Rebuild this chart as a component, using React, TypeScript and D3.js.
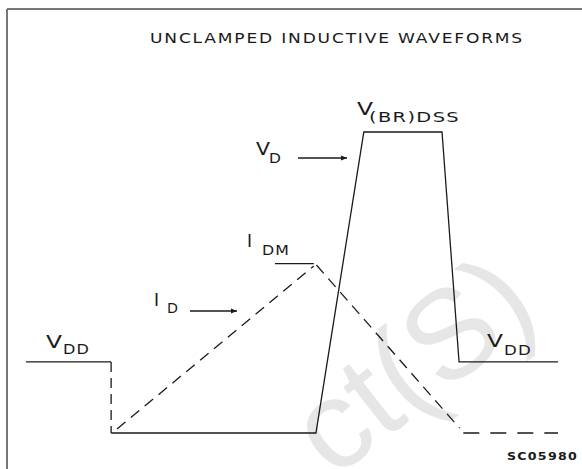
import React from "react";
import * as d3 from "d3";

// waveform points as [time, level], time 0..100 across, level 0..100 up
const vdStart = [[0, 23.6], [16, 23.6]];
const vdFall = [[16, 23.6], [16, 0]];
const vdMain = [[16, 0], [54.5, 0], [63.5, 100], [78.2, 100], [81.4, 23.6], [100, 23.6]];
const idRise = [[17.1, 1.3], [54.1, 55.5]];
const idFall = [[54.6, 55.8], [81.5, 1.6]];
const idTail = [[82.2, 0], [100, 0]];
const idmMark = [[46.8, 56.3], [54.1, 56.3]];

const title = "UNCLAMPED  INDUCTIVE  WAVEFORMS";
const codeLabel = "SC05980";

const W = 582;
const H = 469;

export default function App() {
  const x = d3.scaleLinear().domain([0, 100]).range([26, 558]);
  const y = d3.scaleLinear().domain([0, 100]).range([433, 132]);
  const line = d3
    .line<number[]>()
    .x((d) => x(d[0]))
    .y((d) => y(d[1]));

  const ink = "#1a1a1a";
  const font = "'DejaVu Sans', Verdana, sans-serif";

  // label helper: main letter plus subscript, stretched to the reference widths
  const label = (
    mx: number, my: number, main: string, mainW: number | null,
    sx: number, sy: number, sub: string, subW: number
  ) => (
    <g fill={ink} fontFamily={font}>
      {mainW ? (
        <text x={mx} y={my} fontSize={17} textLength={mainW} lengthAdjust="spacingAndGlyphs">{main}</text>
      ) : (
        <text x={mx} y={my} fontSize={17}>{main}</text>
      )}
      <text x={sx} y={sy} fontSize={14} letterSpacing={1} textLength={subW} lengthAdjust="spacingAndGlyphs">{sub}</text>
    </g>
  );

  return (
    <svg width={W} height={H} style={{ position: "absolute", left: 0, top: 0, background: "#fff" }}>
      {/* faint watermark */}
      <text
        x={0}
        y={0}
        transform="translate(438,398) rotate(-38)"
        fontFamily="'Liberation Sans', Arial, sans-serif"
        fontSize={126}
        fill="#e6e6e6"
        textAnchor="middle"
      >
        ct(S)
      </text>

      {/* frame */}
      <line x1={7} y1={9} x2={W} y2={9} stroke="#777" strokeWidth={2} />
      <line x1={7} y1={9} x2={7} y2={H} stroke="#777" strokeWidth={2} />

      <text x={150} y={43} fontFamily={font} fontSize={14} letterSpacing={1.5} fill={ink} textLength={374} lengthAdjust="spacingAndGlyphs">
        {title}
      </text>

      <g fill="none" stroke={ink} strokeWidth={1.3}>
        <path d={line(vdStart) ?? ""} />
        <path d={line(vdFall) ?? ""} strokeDasharray="10,6" />
        <path d={line(vdMain) ?? ""} strokeLinejoin="miter" />
        <path d={line(idmMark) ?? ""} />
        <path d={line(idRise) ?? ""} strokeDasharray="11,7" />
        <path d={line(idFall) ?? ""} strokeDasharray="11,7" />
        <path d={line(idTail) ?? ""} strokeDasharray="16,11" />
      </g>

      {/* arrows */}
      <defs>
        <marker id="ah" viewBox="0 0 10 10" refX={10} refY={5} markerWidth={8} markerHeight={6} orient="auto" markerUnits="userSpaceOnUse">
          <path d="M0,1 L10,5 L0,9 Z" fill={ink} />
        </marker>
      </defs>
      <line x1={298} y1={158} x2={347} y2={158} stroke={ink} strokeWidth={1.3} markerEnd="url(#ah)" />
      <line x1={190} y1={311} x2={237} y2={311} stroke={ink} strokeWidth={1.3} markerEnd="url(#ah)" />

      {label(46, 348, "V", 16, 63, 354, "DD", 27)}
      {label(487, 347, "V", 16, 504, 355, "DD", 28)}
      {label(357, 115, "V", 16, 369, 122, "(BR)DSS", 91)}
      {label(256, 155, "V", 14, 269, 163, "D", 13)}
      {label(247, 247, "I", null, 262, 255, "DM", 28)}
      {label(154, 306, "I", null, 167, 313, "D", 12)}

      <text x={507} y={460} fontFamily={font} fontSize={10} fontWeight="bold" letterSpacing={1} fill={ink} textLength={71} lengthAdjust="spacingAndGlyphs">
        {codeLabel}
      </text>
    </svg>
  );
}
